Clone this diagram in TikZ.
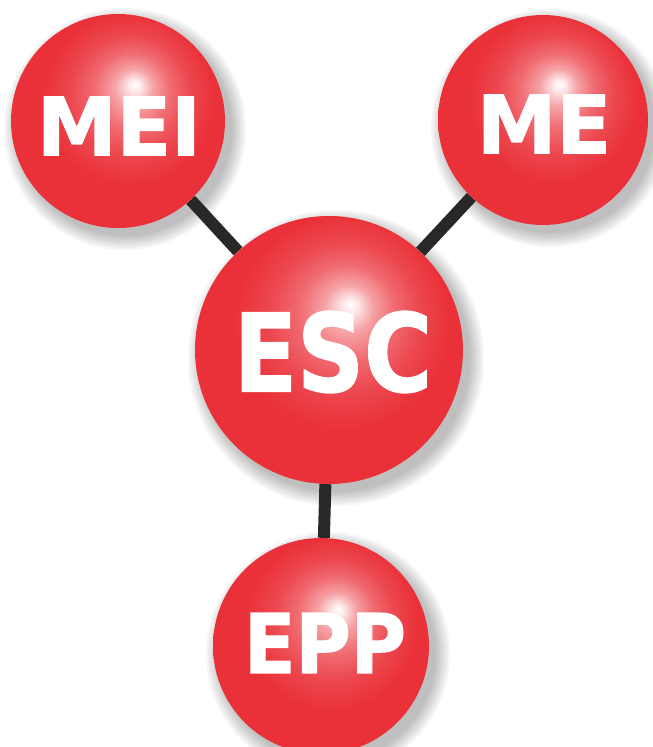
\documentclass[tikz,border=0pt]{standalone}
\usepackage{fontspec}
\setmainfont{DejaVu Sans}
\newfontfamily\capfont[FakeBold=1.5]{DejaVu Sans Bold}
\usetikzlibrary{positioning}

\definecolor{ballred}{RGB}{234,49,57}
\definecolor{linkgray}{RGB}{40,40,40}
\pgfdeclareradialshading{ballshine}{\pgfpoint{4bp}{8.5bp}}{color(0bp)=(white); color(1.5bp)=(white!88!ballred); color(4.5bp)=(white!55!ballred); color(9bp)=(white!28!ballred); color(14bp)=(white!11!ballred); color(20bp)=(ballred); color(50bp)=(ballred)}
\pgfdeclarelayer{shadow}
\pgfdeclarelayer{links}
\pgfsetlayers{shadow,links,main}

\tikzset{
	ball/.style={circle, inner sep=0pt, minimum size=#1, shading=ballshine},
	caption/.style={text=white, inner sep=0pt, font=\capfont\fontsize{#1}{#1}\selectfont},
	link/.style={draw=linkgray, line width=12pt}
}

\begin{document}
\begin{tikzpicture}[x=1pt, y=-1pt]
			
			\useasboundingbox (0,0) rectangle (653,747);
			
			%Balls
			\node (MEI) at (118,121) [ball=214pt]{};
			\node (ME) at (543,120) [ball=210pt]{};
			\node (ESC) at (329,350) [ball=268pt]{};
			\node (EPP) at (321,646) [ball=216pt]{};
			
			%Links
			\begin{pgfonlayer}{links}
			\draw[link] (MEI) -- (ESC);
			\draw[link] (ME) -- (ESC);
			\draw[link] (ESC) -- (EPP);
			\end{pgfonlayer}
			
			%Shadows
			\begin{pgfonlayer}{shadow}
			\foreach \n/\r in {MEI/107, ME/105, ESC/134, EPP/108}
			\foreach \k in {0,...,7}
			\fill[black, opacity=0.035] ([shift={(7,8)}]\n.center) circle[radius={(\r+14-2*\k)*1pt}];
			\end{pgfonlayer}
			
			%Labels
			\node (MEItext) at ([shift={(1,5)}]MEI) [caption=80]{MEI};
			\node (MEtext) at ([shift={(1,4)}]ME) [caption=80]{ME};
			\node (ESCtext) at ([shift={(4,2)}]ESC) [caption=108]{\scalebox{0.86}[1]{ESC}};
			\node (EPPtext) at ([shift={(4,-3)}]EPP) [caption=82]{\scalebox{0.92}[1]{EPP}};
			
			\end{tikzpicture}
\end{document}
